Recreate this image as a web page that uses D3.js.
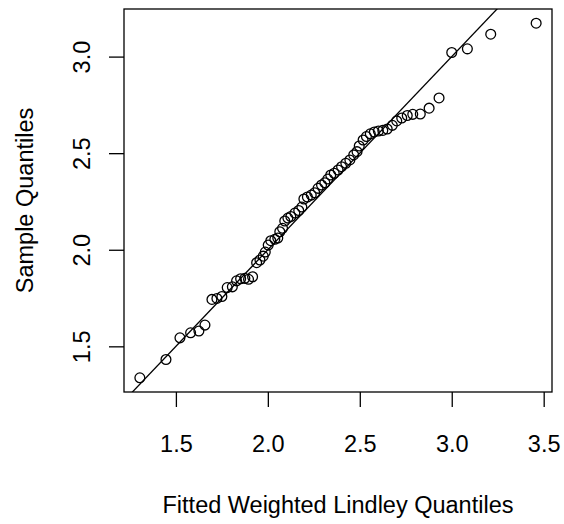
<!DOCTYPE html>
<html>
<head>
<meta charset="utf-8">
<script src="https://cdn.jsdelivr.net/npm/d3@7"></script>
<style>
html,body{margin:0;padding:0;background:#fff;}
svg text{font-family:"Liberation Sans",Arial,Helvetica,sans-serif;fill:#000;}
</style>
</head>
<body>
<svg id="chart" width="564" height="524"></svg>
<script>
// Theoretical (fitted Weighted Lindley) quantiles
const theoretical = [1.304,1.446,1.522,1.580,1.625,1.658,1.696,1.723,1.750,1.779,1.807,1.830,1.852,1.875,1.895,1.917,1.939,1.957,1.975,1.986,2.002,2.016,2.038,2.054,2.065,2.080,2.092,2.109,2.125,2.147,2.168,2.185,2.196,2.215,2.236,2.255,2.273,2.292,2.310,2.326,2.342,2.361,2.382,2.401,2.424,2.446,2.467,2.485,2.497,2.518,2.536,2.557,2.579,2.601,2.625,2.649,2.677,2.701,2.728,2.758,2.788,2.829,2.877,2.931,3.000,3.085,3.212,3.459];
// Sample quantiles
const sample = [1.337,1.432,1.544,1.570,1.579,1.610,1.743,1.748,1.758,1.804,1.808,1.839,1.850,1.852,1.847,1.860,1.933,1.947,1.967,1.988,2.024,2.047,2.054,2.061,2.093,2.111,2.149,2.164,2.172,2.190,2.203,2.221,2.263,2.273,2.283,2.295,2.318,2.335,2.347,2.366,2.387,2.396,2.413,2.430,2.448,2.465,2.491,2.508,2.537,2.568,2.586,2.600,2.610,2.615,2.618,2.625,2.644,2.667,2.682,2.695,2.701,2.703,2.733,2.786,3.021,3.040,3.116,3.173];
const xTicks = [1.5,2.0,2.5,3.0,3.5];
const yTicks = [1.5,2.0,2.5,3.0];
const refLine = [0, 1]; // intercept, slope
const xLabel = "Fitted Weighted Lindley Quantiles";
const yLabel = "Sample Quantiles";

const points = theoretical.map((x,i)=>({x, y: sample[i]}));

const plot = {left:124, right:552, top:9, bottom:392};
const svg = d3.select("#chart");

function padded(ext){ const d=(ext[1]-ext[0])*0.04; return [ext[0]-d, ext[1]+d]; }
const x = d3.scaleLinear().domain(padded(d3.extent(theoretical))).range([plot.left, plot.right]);
const y = d3.scaleLinear().domain(padded(d3.extent(sample))).range([plot.bottom, plot.top]);

svg.append("clipPath").attr("id","clip").append("rect")
  .attr("x",plot.left).attr("y",plot.top)
  .attr("width",plot.right-plot.left).attr("height",plot.bottom-plot.top);

// Reference line
const xd = x.domain();
svg.append("line")
  .attr("clip-path","url(#clip)")
  .attr("x1", x(xd[0]-1)).attr("y1", y(refLine[0]+refLine[1]*(xd[0]-1)))
  .attr("x2", x(xd[1]+1)).attr("y2", y(refLine[0]+refLine[1]*(xd[1]+1)))
  .attr("stroke","#000").attr("stroke-width",1.3);

// Points
svg.append("g").selectAll("circle").data(points).join("circle")
  .attr("cx",d=>x(d.x)).attr("cy",d=>y(d.y)).attr("r",4.9)
  .attr("fill","none").attr("stroke","#000").attr("stroke-width",1.3);

// Box
svg.append("rect").attr("x",plot.left).attr("y",plot.top)
  .attr("width",plot.right-plot.left).attr("height",plot.bottom-plot.top)
  .attr("fill","none").attr("stroke","#000").attr("stroke-width",1.3);

const fs = 23.5;
// X axis
const xAxis = d3.axisBottom(x).tickValues(xTicks).tickFormat(d3.format(".1f")).tickSize(15).tickPadding(0);
const gx = svg.append("g").attr("transform",`translate(0,${plot.bottom})`).call(xAxis);
gx.select(".domain").remove();
gx.selectAll(".tick line").attr("stroke","#000").attr("stroke-width",1.3);
gx.selectAll(".tick text").attr("font-size",fs).attr("dy",null).attr("y",452-plot.bottom).attr("font-family",'"Liberation Sans",Arial,sans-serif');

// Y axis
const yAxis = d3.axisLeft(y).tickValues(yTicks).tickFormat(d3.format(".1f")).tickSize(15);
const gy = svg.append("g").attr("transform",`translate(${plot.left},0)`).call(yAxis);
gy.select(".domain").remove();
gy.selectAll(".tick line").attr("stroke","#000").attr("stroke-width",1.3);
gy.selectAll(".tick text")
  .attr("x",null).attr("dy",null)
  .attr("transform",`translate(${90-plot.left},0) rotate(-90)`)
  .attr("text-anchor","middle")
  .attr("font-size",fs).attr("font-family",'"Liberation Sans",Arial,sans-serif');

// Axis titles
svg.append("text").attr("x",(plot.left+plot.right)/2).attr("y",513)
  .attr("text-anchor","middle").attr("font-size",fs).text(xLabel);
svg.append("text").attr("transform",`translate(33,${(plot.top+plot.bottom)/2}) rotate(-90)`)
  .attr("text-anchor","middle").attr("font-size",fs).text(yLabel);
</script>
</body>
</html>
